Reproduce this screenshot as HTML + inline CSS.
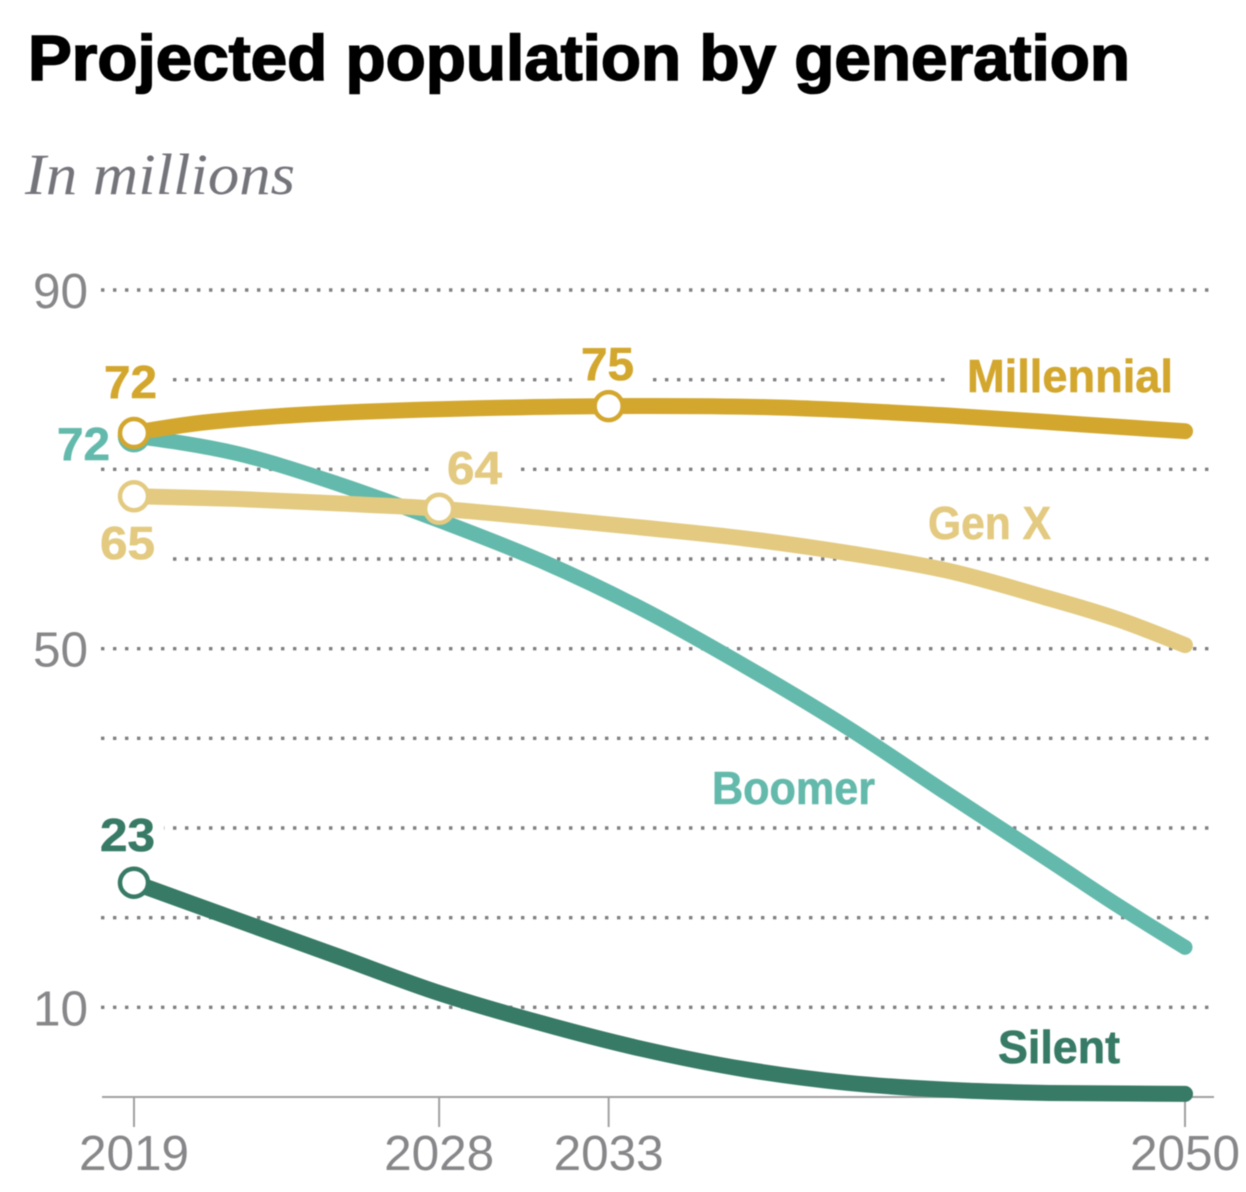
<!DOCTYPE html>
<html lang="en">
<head>
<meta charset="utf-8">
<title>Projected population by generation</title>
<style>
html,body{margin:0;padding:0;background:#fff;width:1246px;height:1192px;overflow:hidden}
svg{display:block;filter:blur(.5px)}
text{font-family:"Liberation Sans",sans-serif}
.value{font-weight:700;font-size:46px;stroke-width:.6px}
</style>
</head>
<body>
<svg id="chart" width="1246" height="1192" viewBox="0 0 1246 1192" xmlns="http://www.w3.org/2000/svg">
  <text x="28" y="80" font-size="64" font-weight="700" fill="#000" stroke="#000" stroke-width="1.6" textLength="1102" lengthAdjust="spacingAndGlyphs">Projected population by generation</text>
  <text x="25" y="194" font-size="58" font-style="italic" fill="#74747b" textLength="270" lengthAdjust="spacingAndGlyphs" style="font-family:'Liberation Serif',serif">In millions</text>
  <g id="grid"></g>
  <g fill="#fff">
    <rect x="96" y="372" width="74" height="16"/>
    <rect x="572" y="372" width="76" height="16"/>
    <rect x="946" y="372" width="270" height="16"/>
    <rect x="431" y="461" width="86" height="16"/>
    <rect x="96" y="551" width="72" height="16"/>
    <rect x="96" y="820" width="68" height="16"/>
  </g>
  <g id="axes"></g>
  <g id="series"></g>
  <g id="markers"></g>
  <g>
    <text class="value" x="104" y="398" fill="#d3a72e" stroke="#d3a72e" textLength="53" lengthAdjust="spacingAndGlyphs">72</text>
    <text class="value" x="57" y="460" fill="#63b9ab" stroke="#63b9ab" textLength="53" lengthAdjust="spacingAndGlyphs">72</text>
    <text class="value" x="100" y="559" fill="#e3ca80" stroke="#e3ca80" textLength="55" lengthAdjust="spacingAndGlyphs">65</text>
    <text class="value" x="447" y="484" fill="#e3ca80" stroke="#e3ca80" textLength="55" lengthAdjust="spacingAndGlyphs">64</text>
    <text class="value" x="581" y="380" fill="#d3a72e" stroke="#d3a72e" textLength="53" lengthAdjust="spacingAndGlyphs">75</text>
    <text class="value" x="100" y="851" fill="#377a65" stroke="#377a65" textLength="55" lengthAdjust="spacingAndGlyphs">23</text>
  </g>
  <g>
    <text class="value" x="967" y="392" fill="#d3a72e" stroke="#d3a72e" textLength="206" lengthAdjust="spacingAndGlyphs">Millennial</text>
    <text class="value" x="928" y="539" fill="#e3ca80" stroke="#e3ca80" textLength="123" lengthAdjust="spacingAndGlyphs">Gen X</text>
    <text class="value" x="712" y="804" fill="#63b9ab" stroke="#63b9ab" textLength="163" lengthAdjust="spacingAndGlyphs">Boomer</text>
    <text class="value" x="998" y="1063" fill="#377a65" stroke="#377a65" textLength="122" lengthAdjust="spacingAndGlyphs">Silent</text>
  </g>
</svg>
<script>
const yGridValues = [10, 20, 30, 40, 50, 60, 70, 80, 90];
const yTickLabels = [10, 50, 90];
const xTickYears = [2019, 2028, 2033, 2050];

const millennialYears = [2019, 2021, 2024, 2028, 2033, 2038, 2043, 2047, 2050];
const millennialValues = [74.05, 75.2, 76.1, 76.7, 77.05, 76.9, 76.0, 75.0, 74.25];
const millennialMarkerYears = [2019, 2033];

const boomerYears = [2019, 2022, 2025, 2028, 2031, 2034, 2037, 2040, 2043, 2046, 2048, 2050];
const boomerValues = [73.7, 71.8, 68.4, 64.3, 59.8, 54.4, 48.1, 41.3, 33.8, 26.4, 21.4, 16.7];
const boomerMarkerYears = [2019];

const genXYears = [2019, 2022, 2025, 2028, 2031, 2034, 2037, 2040, 2043, 2046, 2048, 2050];
const genXValues = [67.0, 66.7, 66.2, 65.6, 64.6, 63.5, 62.3, 60.7, 58.7, 55.6, 53.3, 50.4];
const genXMarkerYears = [2019, 2028];

const silentYears = [2019, 2022, 2025, 2028, 2031, 2034, 2037, 2040, 2043, 2046, 2050];
const silentValues = [23.9, 19.8, 15.7, 11.6, 8.25, 5.35, 3.1, 1.6, 0.8, 0.45, 0.35];
const silentMarkerYears = [2019];

const NS = 'http://www.w3.org/2000/svg';
function xScale(year) { return 134 + (year - 2019) * (1185 - 134) / (2050 - 2019); }
function yScale(value) { return 1097 - value * (1097 - 290) / 90; }

function make(tag, parent, props) {
  const el = document.createElementNS(NS, tag);
  for (const key in props) el.setAttribute(key, props[key]);
  parent.appendChild(el);
  return el;
}

function smoothPath(years, values) {
  const xs = years.map(xScale);
  const ys = values.map(yScale);
  const n = xs.length;
  const m = [];
  for (let i = 1; i < n - 1; i++) m[i] = (ys[i + 1] - ys[i - 1]) / (xs[i + 1] - xs[i - 1]);
  m[0] = (3 * (ys[1] - ys[0]) / (xs[1] - xs[0]) - m[1]) / 2;
  m[n - 1] = (3 * (ys[n - 1] - ys[n - 2]) / (xs[n - 1] - xs[n - 2]) - m[n - 2]) / 2;
  let d = 'M' + xs[0].toFixed(1) + ' ' + ys[0].toFixed(1);
  for (let i = 0; i < n - 1; i++) {
    const dx = (xs[i + 1] - xs[i]) / 3;
    d += 'C' + (xs[i] + dx).toFixed(1) + ' ' + (ys[i] + m[i] * dx).toFixed(1) + ' ' +
         (xs[i + 1] - dx).toFixed(1) + ' ' + (ys[i + 1] - m[i + 1] * dx).toFixed(1) + ' ' +
         xs[i + 1].toFixed(1) + ' ' + ys[i + 1].toFixed(1);
  }
  return d;
}

const gridLayer = document.getElementById('grid');
const axesLayer = document.getElementById('axes');
const seriesLayer = document.getElementById('series');
const markerLayer = document.getElementById('markers');

yGridValues.forEach(function (v) {
  const line = make('line', gridLayer, { x1: 101, x2: 1210, y1: yScale(v), y2: yScale(v), stroke: '#808084', 'stroke-width': 3.4, 'stroke-dasharray': '3.4 8.6' });
  
  
});

yTickLabels.forEach(function (v) {
  const t = make('text', axesLayer, { x: 88, y: yScale(v) + 18, 'text-anchor': 'end', 'font-size': 49.5, fill: '#87878a' });
  t.textContent = v;
  
  
});

const baseline = make('line', axesLayer, { x1: 102, x2: 1214, y1: 1097, y2: 1097, stroke: '#a0a0a0', 'stroke-width': 2 });



xTickYears.forEach(function (yr) {
  const tick = make('line', axesLayer, { x1: xScale(yr), x2: xScale(yr), y1: 1097, y2: 1127, stroke: '#a0a0a0', 'stroke-width': 2 });
  
  
  const t = make('text', axesLayer, { x: xScale(yr), y: 1170, 'text-anchor': 'middle', 'font-size': 49.5, fill: '#87878a' });
  t.textContent = yr;
  
  
});

function drawSeries(name, years, values, markerYears, color, width) {
  const path = make('path', seriesLayer, { d: smoothPath(years, values), fill: 'none', stroke: color, 'stroke-width': width, 'stroke-linecap': 'round', 'stroke-linejoin': 'round' });
  
  
  markerYears.forEach(function (yr) {
    const v = values[years.indexOf(yr)];
    const dot = make('circle', markerLayer, { cx: xScale(yr), cy: yScale(v), r: 14, fill: '#fff', stroke: color, 'stroke-width': 4.5 });
    
    
  });
}

drawSeries('silent', silentYears, silentValues, silentMarkerYears, '#377a65', 16);
drawSeries('boomer', boomerYears, boomerValues, boomerMarkerYears, '#63b9ab', 15);
drawSeries('genx', genXYears, genXValues, genXMarkerYears, '#e3ca80', 16);
drawSeries('millennial', millennialYears, millennialValues, millennialMarkerYears, '#d3a72e', 16);
</script>
</body>
</html>
